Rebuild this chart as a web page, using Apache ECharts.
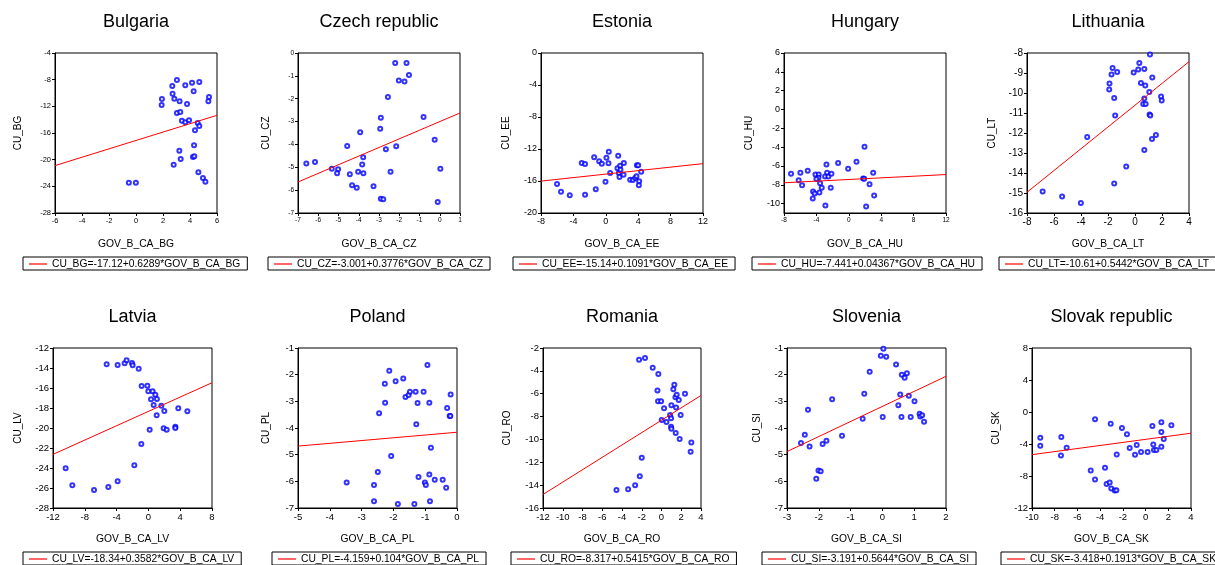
<!DOCTYPE html>
<html>
<head>
<meta charset="utf-8">
<script src="https://cdn.jsdelivr.net/npm/echarts@6/dist/echarts.min.js"></script>
<style>
html, body { margin: 0; padding: 0; background: #fff; }
#main { width: 1215px; height: 565px; }
</style>
</head>
<body>
<div id="main"></div>
<script>
// country panels, in the order they appear (left to right, top row first)
var countries = ['Bulgaria', 'Czech republic', 'Estonia', 'Hungary', 'Lithuania',
                 'Latvia', 'Poland', 'Romania', 'Slovenia', 'Slovak republic'];
var codes = ['BG', 'CZ', 'EE', 'HU', 'LT', 'LV', 'PL', 'RO', 'SI', 'SK'];

// regression coefficients printed in the legends
var intercepts = [-17.12, -3.001, -15.14, -7.441, -10.61, -18.34, -4.159, -8.317, -3.191, -3.418];
var slopes = [0.6289, 0.3776, 0.1091, 0.04367, 0.5442, 0.3582, 0.104, 0.5415, 0.5644, 0.1913];

// axis ranges / tick steps
var xMin = [-6, -7, -8, -8, -8, -12, -5, -12, -3, -10];
var xMax = [6, 1, 12, 12, 4, 8, 0, 4, 2, 4];
var xStep = [2, 1, 4, 4, 2, 4, 1, 2, 1, 2];
var yMin = [-28, -7, -20, -11, -16, -28, -7, -16, -7, -12];
var yMax = [-4, 0, 0, 6, -8, -12, -1, -2, -1, 8];
var yStep = [4, 1, 4, 2, 1, 2, 1, 2, 1, 4];
var huYTicks = [-10, -8, -6, -4, -2, 0, 2, 4, 6];

// GOV_B_CA (x) and CU (y) observations
var bgX = [1.92, 1.9, 2.69, 3.03, 2.71, 2.84, 3.23, 3.03, 3.28, 3.65, 3.78, 4.15, 4.27, 4.69, 5.41, 5.36, 3.4,
           3.65, 3.93, 4.57, 4.69, 4.37, 4.3, 3.21, 4.22, 4.32, 3.31, 2.79, 4.62, 4.96, 5.14, -0.53, -0.01];
var bgY = [-10.9, -11.8, -8.95, -8.05, -10.1, -10.85, -11.25, -13, -12.85, -8.85, -11.65, -8.45, -9.75, -8.35, -10.6, -11.25, -14.15,
           -14.4, -14.1, -14.5, -14.95, -15.6, -17.85, -18.65, -19.6, -19.5, -19.9, -20.75, -21.9, -22.75, -23.3, -23.45, -23.45];

var czX = [-6.59, -6.16, -5.33, -5.02, -5.07, -4.57, -4.44, -3.93, -4.33, -4.03, -4.1, -3.83, -3.78, -3.77, -3.27, -2.91,
           -2.79, -2.94, -2.91, -2.66, -2.43, -2.56, -2.2, -1.64, -2.02, -1.74, -1.52, -2.15, -0.8, -0.25, 0.03, -0.1];
var czY = [-4.83, -4.77, -5.06, -5.09, -5.26, -4.07, -5.31, -3.47, -5.79, -5.2, -5.9, -4.88, -4.56, -5.26, -5.83, -6.38,
           -6.4, -3.31, -2.83, -4.21, -5.2, -1.92, -0.44, -0.44, -1.2, -1.25, -0.96, -4.08, -2.8, -3.79, -5.06, -6.52];

var eeX = [-6.02, -5.53, -4.45, -2.97, -2.56, -2.56, -1.44, -1.24, -0.82, -0.49, -0.04, 0.08, 0.37, 0.33, 0.54, 1.53,
           1.44, 1.61, 1.77, 1.81, 1.69, 2.23, 2.19, 3.01, 3.34, 3.63, 3.79, 3.84, 4.0, 4.12, 4.08, 4.37];
var eeY = [-16.38, -17.33, -17.79, -13.75, -13.88, -17.71, -13.04, -17.04, -13.54, -13.83, -16.08, -13.08, -12.33, -13.79, -15, -12.83,
           -14.42, -15, -14.08, -14.58, -15.5, -13.75, -15.21, -15.83, -15.88, -15.63, -15.42, -14.04, -14.04, -16.04, -16.54, -14.83];

var huX = [-7.13, -5.98, -6.19, -5.77, -5.07, -4.12, -3.71, -3.75, -4.0, -3.55, -3.34, -3.63, -4.41, -4.21, -4.45, -2.76,
           -2.68, -2.93, -2.52, -2.14, -2.23, -2.89, -1.32, -0.08, 0.95, 1.94, 1.77, 1.9, 2.56, 3.01, 3.13, 2.14];
var huY = [-6.84, -6.73, -7.51, -8.04, -6.52, -6.91, -6.91, -7.26, -7.4, -7.83, -8.33, -8.82, -8.72, -8.93, -9.46, -5.84,
           -6.73, -7.12, -7.12, -6.84, -8.33, -10.21, -5.7, -6.3, -5.56, -3.96, -7.33, -7.37, -7.94, -6.73, -9.14, -10.31];

var ltX = [-6.84, -5.4, -4.01, -3.54, -1.89, -1.91, -1.74, -1.66, -1.32, -1.54, -1.47, -1.54, -0.65, -0.1, 0.24, 0.32,
           0.44, 0.69, 0.76, 0.69, 0.61, 0.79, 1.06, 1.11, 1.28, 1.08, 1.13, 1.26, 1.55, 0.69, 1.93, 1.98];
var ltY = [-14.93, -15.17, -15.5, -12.2, -9.52, -9.82, -9.08, -8.75, -8.95, -10.25, -11.13, -14.53, -13.68, -8.98, -8.82, -8.5,
           -9.5, -8.8, -9.63, -10.27, -10.55, -10.55, -9.95, -8.07, -9.22, -11.08, -11.12, -12.3, -12.1, -12.85, -10.17, -10.37];

var lvX = [-10.41, -9.57, -6.84, -5.04, -3.87, -1.77, -0.89, -5.25, -3.87, -2.99, -2.74, -2.06, -1.98, -1.22, -0.85, -0.13,
           -0.01, 0.53, 0.87, 0.33, 1.07, 0.66, 1.63, 1.04, 2.0, 3.76, 4.9, 0.16, 1.92, 2.3, 3.39, 3.39];
var lvY = [-24.03, -25.73, -26.2, -25.9, -25.33, -23.73, -21.6, -13.63, -13.7, -13.53, -13.23, -13.5, -13.73, -14.07, -15.8, -15.77,
           -16.33, -16.33, -16.67, -17.13, -17.1, -17.7, -17.77, -18.73, -18.3, -18.03, -18.33, -20.17, -20.03, -20.17, -19.87, -20.0];

var plX = [-3.47, -2.61, -2.61, -2.49, -2.45, -2.27, -2.26, -2.13, -2.07, -1.93, -1.86, -1.69, -1.62, -1.52, -1.48, -1.3, -1.34, -1.28,
           -1.24, -1.21, -1.05, -1.01, -0.98, -0.93, -0.87, -0.87, -0.82, -0.85, -0.7, -0.45, -0.34, -0.31, -0.23, -0.21, -0.2];
var plY = [-6.04, -6.14, -6.75, -5.65, -3.45, -2.34, -3.05, -1.85, -5.05, -2.25, -6.85, -2.14, -2.84, -2.76, -2.64, -2.64, -6.85, -3.86,
           -3.06, -5.84, -2.64, -6.04, -6.14, -1.64, -3.05, -5.74, -4.74, -6.75, -5.94, -5.94, -6.24, -3.25, -3.55, -3.55, -2.74];

var roX = [-4.56, -3.38, -2.67, -2.2, -2.0, -2.27, -1.67, -0.89, -0.32, -0.41, -0.35, -0.04, 0.26, 0.02, 0.5, 0.87,
           1.0, 1.2, 1.3, 1.41, 1.54, 1.48, 1.75, 0.97, 0.97, 1.0, 1.44, 1.94, 1.84, 2.38, 3.02, 2.95];
var roY = [-14.42, -14.36, -14.01, -13.22, -11.61, -3.03, -2.88, -3.73, -4.28, -5.72, -6.66, -6.66, -7.27, -8.3, -8.47, -7.86,
           -7.01, -5.6, -5.22, -6.31, -6.1, -7.21, -6.54, -8.15, -8.88, -9.06, -9.44, -7.86, -9.97, -6.01, -10.26, -11.08];

var siX = [-2.56, -2.44, -2.34, -2.29, -2.08, -2.01, -1.94, -1.88, -1.76, -1.58, -1.27, -0.62, -0.57, -0.4, -0.05, 0.03,
           0.12, 0.01, 0.43, 0.5, 0.56, 0.6, 0.61, 0.7, 0.77, 0.83, 0.89, 1.01, 1.17, 1.19, 1.25, 1.31];
var siY = [-4.56, -4.25, -3.32, -4.69, -5.9, -5.59, -5.62, -4.6, -4.48, -2.92, -4.29, -3.65, -2.72, -1.89, -1.29, -1.03,
           -1.33, -3.59, -1.62, -3.15, -2.74, -3.59, -2.0, -2.12, -1.95, -2.79, -3.59, -3.0, -3.47, -3.57, -3.52, -3.77];

var skX = [-9.27, -9.27, -7.42, -7.45, -6.95, -4.83, -4.45, -4.45, -3.57, -3.43, -3.16, -3.07, -3.02, -2.72, -2.57, -2.54,
           -2.08, -1.64, -1.4, -0.93, -0.78, -0.4, 0.18, 0.6, 0.68, 0.74, 0.95, 1.39, 1.39, 1.39, 1.6, 2.27];
var skY = [-3.21, -4.22, -3.13, -5.43, -4.47, -7.31, -0.91, -8.44, -6.98, -8.99, -8.82, -1.46, -9.57, -9.82, -9.78, -5.31,
           -2.0, -2.79, -4.51, -5.35, -4.13, -5.01, -5.01, -1.75, -4.05, -4.76, -4.76, -1.29, -2.5, -4.34, -3.38, -1.67];

var xs = [bgX, czX, eeX, huX, ltX, lvX, plX, roX, siX, skX];
var ys = [bgY, czY, eeY, huY, ltY, lvY, plY, roY, siY, skY];

// panel layout (pixels)
var gridLeft = [55, 298, 541, 784, 1027, 53, 298, 543, 787, 1032];
var gridWidth = [162, 162, 162, 162, 162, 159, 159, 158, 159, 159];
var gridTop = [53, 53, 53, 53, 53, 348, 348, 348, 348, 348];
var legendLeft = [23, 268, 513, 752, 999, 23, 272, 511, 762, 1001];
var yNameGap = [32, 27, 30, 30, 30, 30, 27, 31, 25, 31];
var xLabelSize = [7.5, 6.5, 9, 6.5, 10, 9.5, 9.5, 9.5, 9.5, 9.5];
var yLabelSize = [7.5, 6.5, 9, 9, 10, 9.5, 9.5, 9.5, 9.5, 9.5];

var FONT = 'Liberation Sans, Arial, sans-serif';

var myChart = echarts.init(document.getElementById('main'));
var option = {
    backgroundColor: '#fff',
    animation: false,
    title: [],
    legend: [],
    grid: [],
    xAxis: [],
    yAxis: [],
    series: []
};

for (var i = 0; i < codes.length; i++) {
    var c = codes[i];
    var eq = 'CU_' + c + '=' + intercepts[i] + '+' + slopes[i] + '*GOV_B_CA_' + c;

    option.title.push({
        text: countries[i],
        left: gridLeft[i] + gridWidth[i] / 2,
        top: gridTop[i] - 40,
        textAlign: 'center',
        padding: 0,
        textStyle: { fontFamily: FONT, fontSize: 18, fontWeight: 'normal', color: '#000' }
    });

    option.grid.push({
        left: gridLeft[i], top: gridTop[i], width: gridWidth[i], height: 160,
        show: true, borderColor: '#000', borderWidth: 1, backgroundColor: 'transparent'
    });

    option.xAxis.push({
        type: 'value', gridIndex: i,
        min: xMin[i], max: xMax[i], interval: xStep[i],
        name: 'GOV_B_CA_' + c, nameLocation: 'middle', nameGap: 26,
        nameTextStyle: { fontFamily: FONT, fontSize: 10.3, color: '#000' },
        axisLine: { onZero: false, lineStyle: { color: '#000', width: 1 } },
        axisTick: { show: true, inside: false, length: 3, lineStyle: { color: '#000' } },
        axisLabel: { fontFamily: FONT, fontSize: xLabelSize[i], color: '#000', margin: 4 },
        splitLine: { show: false }
    });

    var yAx = {
        type: 'value', gridIndex: i,
        min: yMin[i], max: yMax[i], interval: yStep[i],
        name: 'CU_' + c, nameLocation: 'middle', nameGap: yNameGap[i], nameRotate: 90,
        nameTextStyle: { fontFamily: FONT, fontSize: 10, color: '#000' },
        axisLine: { onZero: false, lineStyle: { color: '#000', width: 1 } },
        axisTick: { show: true, inside: false, length: 3, lineStyle: { color: '#000' } },
        axisLabel: { fontFamily: FONT, fontSize: yLabelSize[i], color: '#000', margin: 4 },
        splitLine: { show: false }
    };
    if (c === 'HU') {
        delete yAx.interval;
        yAx.axisLabel.customValues = huYTicks;
        yAx.axisTick.customValues = huYTicks;
    }
    option.yAxis.push(yAx);

    option.series.push({
        type: 'scatter', xAxisIndex: i, yAxisIndex: i,
        name: c,
        symbol: 'emptyCircle', symbolSize: 4,
        itemStyle: { color: '#0000ff', borderColor: '#0000ff', borderWidth: 1.1 },
        data: xs[i].map(function (x, k) { return [x, this[k]]; }, ys[i])
    });

    option.series.push({
        type: 'line', xAxisIndex: i, yAxisIndex: i,
        name: eq,
        symbol: 'none', silent: true,
        lineStyle: { color: '#ff0000', width: 1 },
        itemStyle: { color: '#ff0000' },
        data: [[xMin[i], intercepts[i] + slopes[i] * xMin[i]],
               [xMax[i], intercepts[i] + slopes[i] * xMax[i]]]
    });

    option.legend.push({
        data: [eq],
        left: legendLeft[i], top: gridTop[i] + 204,
        orient: 'horizontal',
        padding: [2, 7, 1, 6],
        icon: 'rect',
        itemWidth: 18, itemHeight: 1.2,
        itemStyle: { color: '#ff0000' },
        borderColor: '#000', borderWidth: 1, borderRadius: 0,
        selectedMode: false,
        textStyle: { fontFamily: FONT, fontSize: 10.3, color: '#000' }
    });
}

myChart.setOption(option);
</script>
</body>
</html>
